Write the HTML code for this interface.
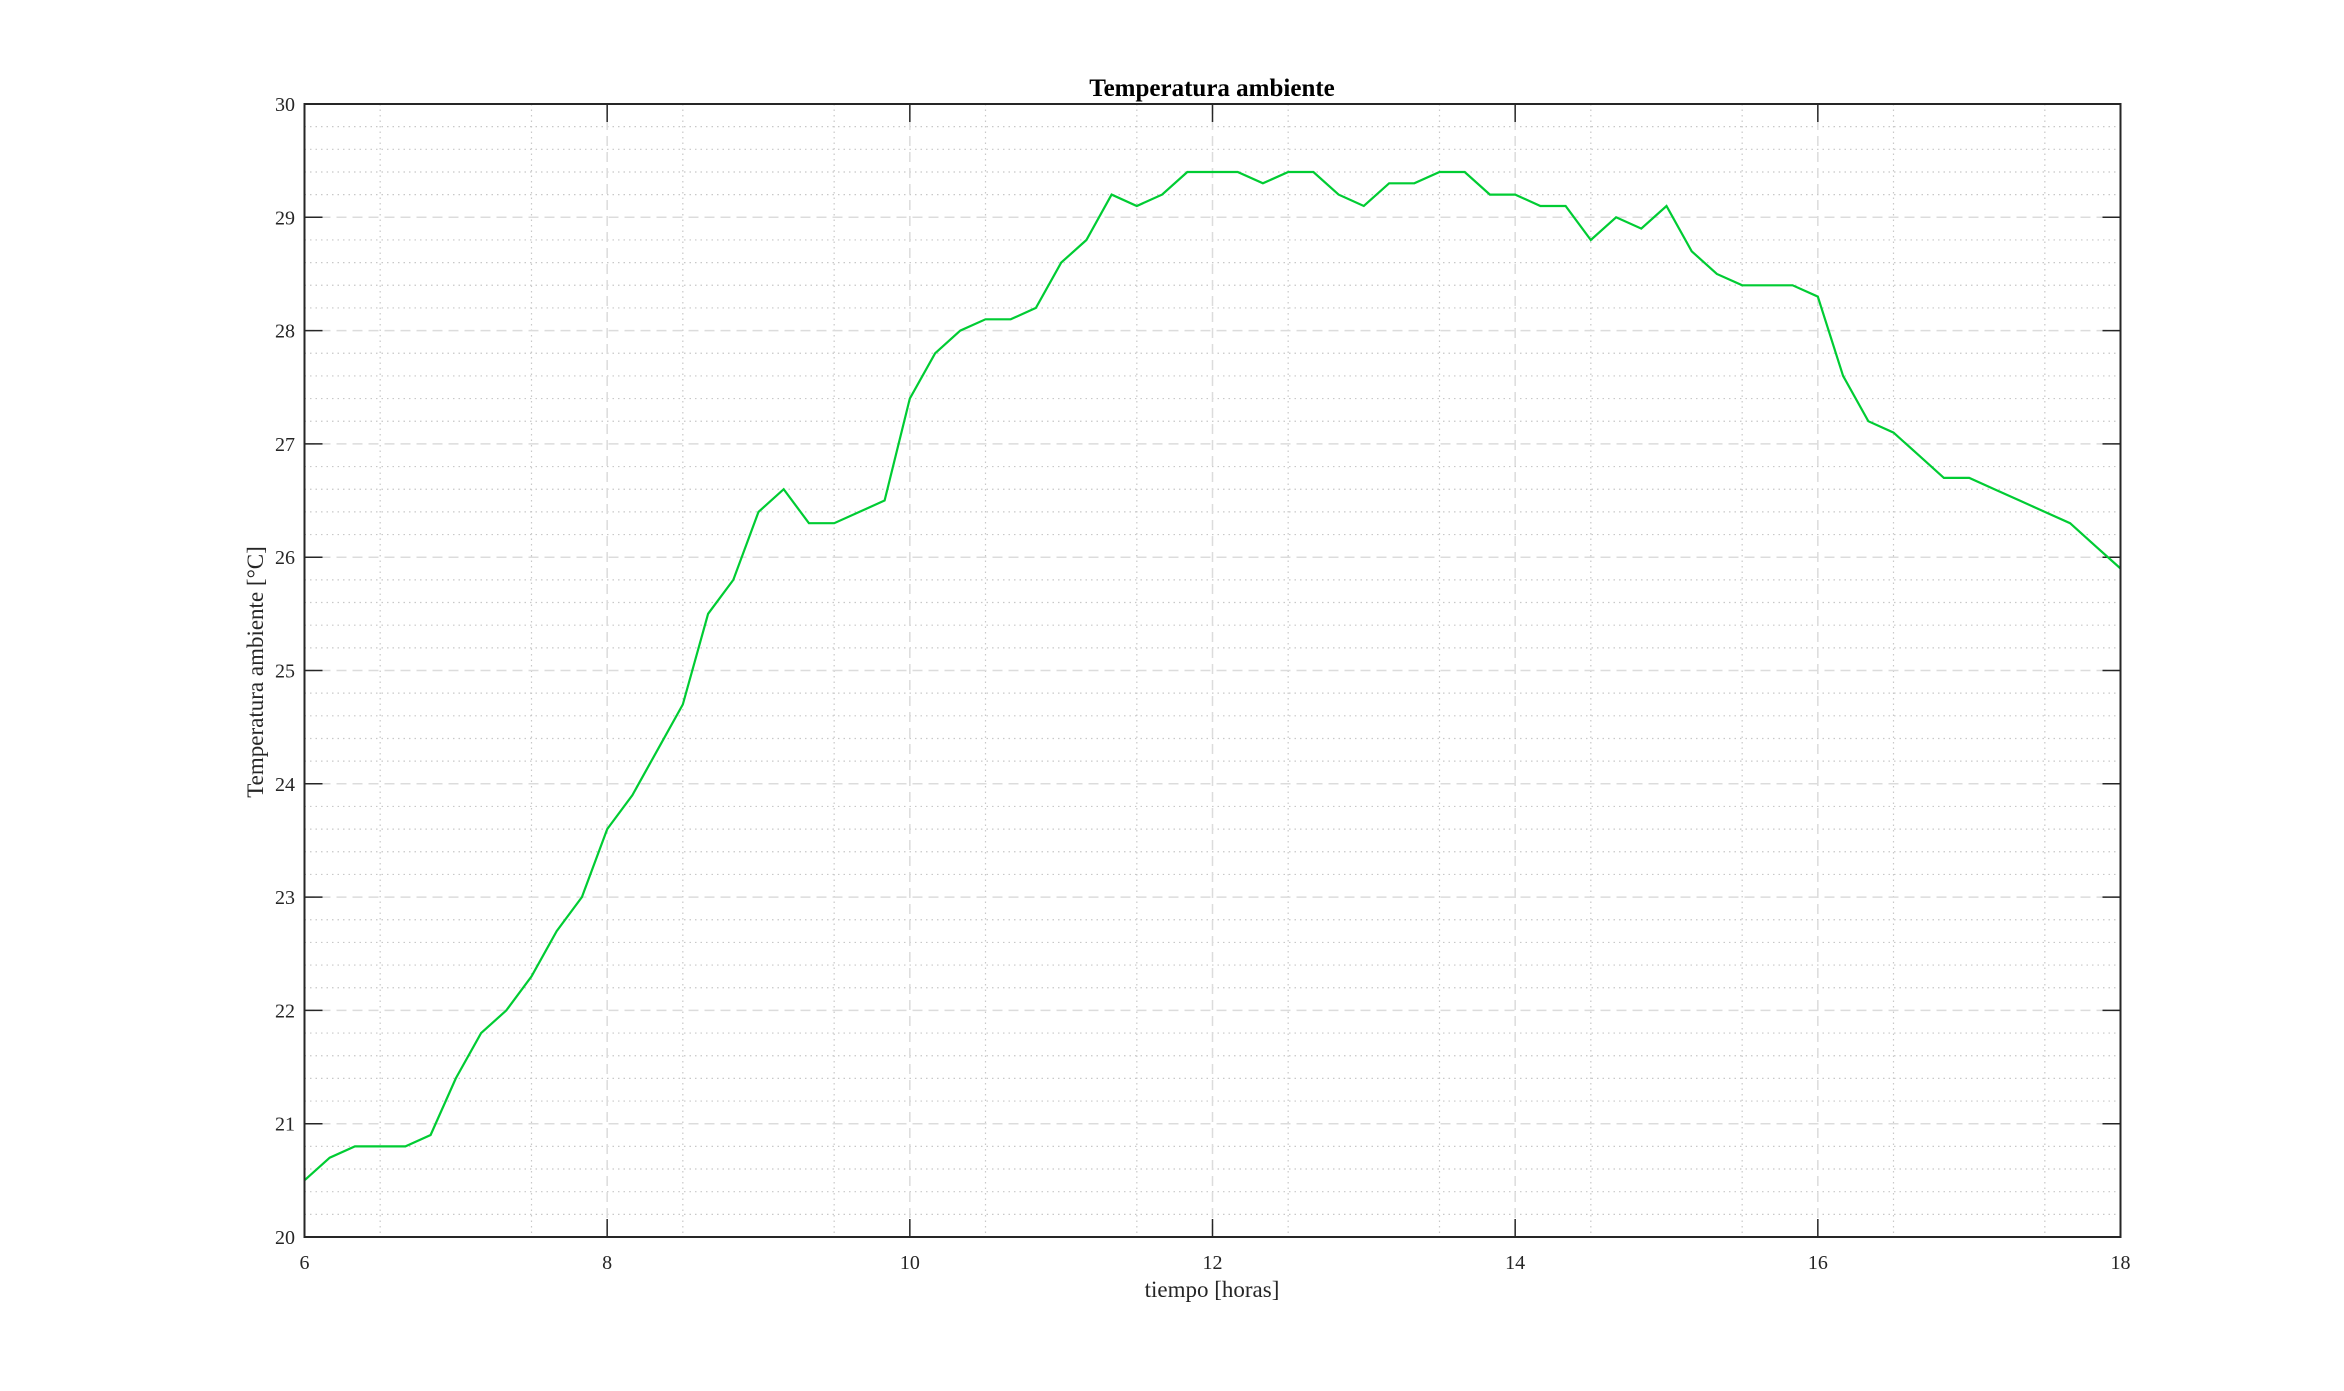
<!DOCTYPE html>
<html><head><meta charset="utf-8">
<style>
html,body{margin:0;padding:0;background:#fff;}
svg{display:block;font-family:"Liberation Serif",serif;}
</style></head>
<body>
<svg id="chart" width="2344" height="1391" viewBox="0 0 2344 1391" xmlns="http://www.w3.org/2000/svg">
<rect x="0" y="0" width="2344" height="1391" fill="#fff"/>
<g id="grid"></g>
<g id="ticks"></g>
<path id="series" fill="none" stroke="#00cc33" stroke-width="2.2"/>
<rect x="304.5" y="104" width="1816" height="1133" fill="none" stroke="#262626" stroke-width="2"/>
<text x="1212" y="96" text-anchor="middle" font-size="25" font-weight="bold" fill="#000">Temperatura ambiente</text>
<text x="1212" y="1297" text-anchor="middle" font-size="23" fill="#262626">tiempo [horas]</text>
<text transform="translate(263,672) rotate(-90)" text-anchor="middle" font-size="23" fill="#262626">Temperatura ambiente [°C]</text>
</svg>
<script>
const xTicks=[6,8,10,12,14,16,18];
const yTicks=[20,21,22,23,24,25,26,27,28,29,30];
const temps=[20.5,20.7,20.8,20.8,20.8,20.9,21.4,21.8,22.0,22.3,22.7,23.0,
23.6,23.9,24.3,24.7,25.5,25.8,26.4,26.6,26.3,26.3,26.4,26.5,
27.4,27.8,28.0,28.1,28.1,28.2,28.6,28.8,29.2,29.1,29.2,29.4,
29.4,29.4,29.3,29.4,29.4,29.2,29.1,29.3,29.3,29.4,29.4,29.2,
29.2,29.1,29.1,28.8,29.0,28.9,29.1,28.7,28.5,28.4,28.4,28.4,
28.3,27.6,27.2,27.1,26.9,26.7,26.7,26.6,26.5,26.4,26.3,26.1,25.9];
const hours=temps.map((_,i)=>6+i/6);
const L=304.5,R=2120.5,T=104,B=1237;
const xs=v=>L+(v-6)/12*(R-L);
const ys=v=>B-(v-20)/10*(B-T);
const NS="http://www.w3.org/2000/svg";
const grid=document.getElementById('grid'),ticks=document.getElementById('ticks');
function ln(p,x1,y1,x2,y2,st,w,da){const l=document.createElementNS(NS,'line');
l.setAttribute('x1',x1);l.setAttribute('y1',y1);l.setAttribute('x2',x2);l.setAttribute('y2',y2);
l.setAttribute('stroke',st);l.setAttribute('stroke-width',w);if(da)l.setAttribute('stroke-dasharray',da);p.appendChild(l);return l;}
for(let h=6.5;h<18;h+=1){const l=ln(grid,xs(h),T,xs(h),B,'#c8c8c8',1.2,'1.5 4');

}
for(let k=1;k<50;k++){if(k%5===0)continue;const v=20+k*0.2;const l=ln(grid,L,ys(v),R,ys(v),'#c8c8c8',1.2,'1.5 4');

}
xTicks.forEach(v=>{const x=xs(v);
if(v>6&&v<18){const g=ln(grid,x,T,x,B,'#dcdcdc',1.5,'10 6');


ln(ticks,x,T,x,T+18,'#262626',1.5);ln(ticks,x,B,x,B-18,'#262626',1.5);}
const t=document.createElementNS(NS,'text');t.setAttribute('x',x);t.setAttribute('y',1269);
t.setAttribute('text-anchor','middle');t.setAttribute('font-size','20');t.setAttribute('fill','#262626');t.textContent=v;


ticks.appendChild(t);});
yTicks.forEach(v=>{const y=ys(v);
if(v>20&&v<30){const g=ln(grid,L,y,R,y,'#dcdcdc',1.5,'10 6');


ln(ticks,L,y,L+18,y,'#262626',1.5);ln(ticks,R,y,R-18,y,'#262626',1.5);}
const t=document.createElementNS(NS,'text');t.setAttribute('x',295);t.setAttribute('y',y+7);
t.setAttribute('text-anchor','end');t.setAttribute('font-size','20');t.setAttribute('fill','#262626');t.textContent=v;


ticks.appendChild(t);});
document.getElementById('series').setAttribute('d',temps.map((v,i)=>(i?'L':'M')+xs(hours[i]).toFixed(1)+','+ys(v).toFixed(1)).join(''));
</script>
</body></html>
